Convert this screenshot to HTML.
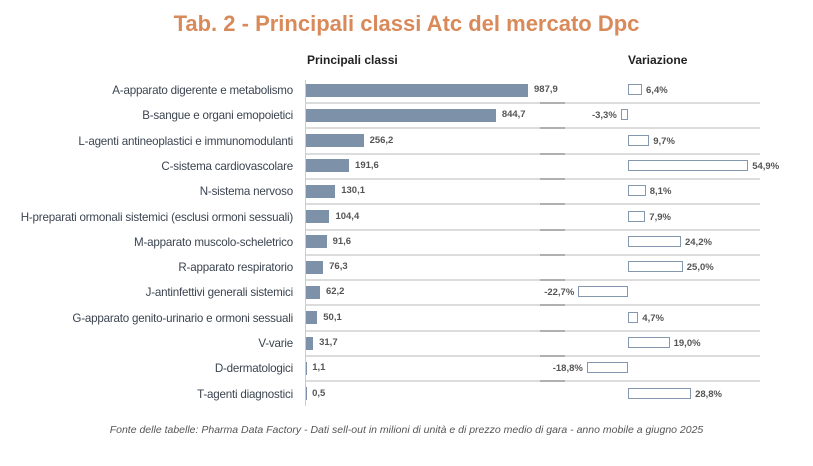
<!DOCTYPE html><html><head><meta charset="utf-8"><style>
body{margin:0;width:813px;height:466px;background:#fff;font-family:"Liberation Sans",sans-serif;position:relative;overflow:hidden}
.a{position:absolute;white-space:nowrap}
.lab{right:520px;font-size:11.6px;color:#3b4450;letter-spacing:-0.2px}
.bar{left:306px;height:13px;background:#7d91a8}
.v{font-size:9.5px;font-weight:bold;color:#555}
.box{height:11px;border:1.5px solid #8497ad;box-sizing:border-box;background:#fff}
.sep{left:306px;width:454px;height:2px;background:#dcdcdc}
.sep i{position:absolute;left:234px;width:25px;height:2px;background:#b0b0b0}
</style></head><body>
<div class="a" style="left:0;width:813px;text-align:center;top:11px;font-size:22px;font-weight:bold;color:#d98a5a">Tab. 2 - Principali classi Atc del mercato Dpc</div>
<div class="a" style="left:307px;top:53px;font-size:12px;font-weight:bold;color:#222">Principali classi</div>
<div class="a" style="left:628px;top:53px;font-size:12px;font-weight:bold;color:#222">Variazione</div>
<div class="a" style="left:305px;top:80px;width:1px;height:326px;background:#ccc"></div>
<div id="c"></div>
<div class="a" style="left:0;width:813px;text-align:center;top:424px;font-size:10.5px;font-style:italic;color:#555">Fonte delle tabelle: Pharma Data Factory - Dati sell-out in milioni di unità e di prezzo medio di gara - anno mobile a giugno 2025</div>
<script>
const d=[["A-apparato digerente e metabolismo",987.9,6.4],["B-sangue e organi emopoietici",844.7,-3.3],["L-agenti antineoplastici e immunomodulanti",256.2,9.7],["C-sistema cardiovascolare",191.6,54.9],["N-sistema nervoso",130.1,8.1],["H-preparati ormonali sistemici (esclusi ormoni sessuali)",104.4,7.9],["M-apparato muscolo-scheletrico",91.6,24.2],["R-apparato respiratorio",76.3,25.0],["J-antinfettivi generali sistemici",62.2,-22.7],["G-apparato genito-urinario e ormoni sessuali",50.1,4.7],["V-varie",31.7,19.0],["D-dermatologici",1.1,-18.8],["T-agenti diagnostici",0.5,28.8]];
let h="";const f=x=>x.toFixed(1).replace(".",",");
d.forEach((r,i)=>{const y=90+i*25.3;const w=r[1]*222/987.9;
h+=`<div class="a lab" style="top:${y-6}px">${r[0]}</div>`;
h+=`<div class="a bar" style="top:${y-6.5}px;width:${w}px"></div>`;
h+=`<div class="a v" style="left:${306+w+6}px;top:${y-6}px">${f(r[1])}</div>`;
const bw=Math.max(Math.abs(r[2])*2.19,7);
if(r[2]>=0){h+=`<div class="a box" style="left:628px;top:${y-6}px;width:${bw}px"></div><div class="a v" style="left:${628+bw+4}px;top:${y-5}px">${f(r[2])}%</div>`;}
else{h+=`<div class="a box" style="left:${628-bw}px;top:${y-6}px;width:${bw}px"></div><div class="a v" style="right:${813-(628-bw)+4}px;top:${y-5}px">${f(r[2])}%</div>`;}
if(i<12)h+=`<div class="a sep" style="top:${y+12}px"><i></i></div>`;});
document.getElementById("c").innerHTML=h;
</script></body></html>
